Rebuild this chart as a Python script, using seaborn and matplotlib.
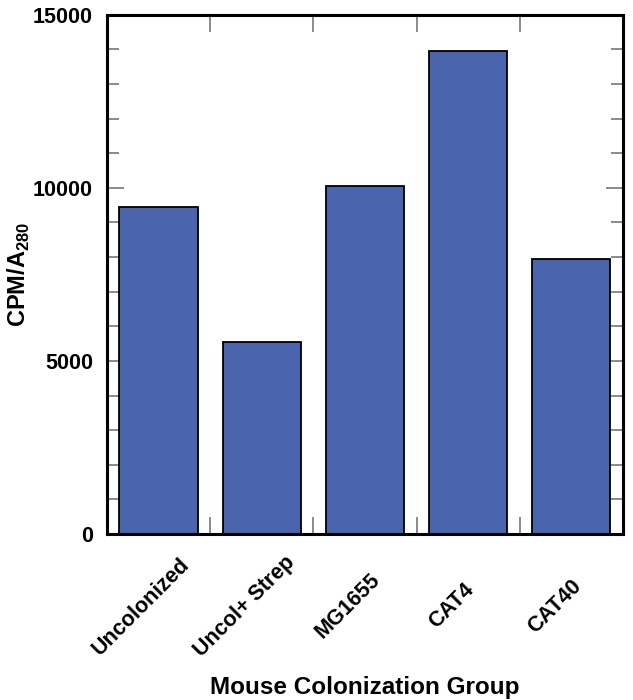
import pandas as pd
import matplotlib.pyplot as plt
import matplotlib.transforms as mtransforms
from matplotlib.ticker import MultipleLocator, FixedLocator
import seaborn as sns

# Values
groups = ['Uncolonized', 'Uncol+ Strep', 'MG1655', 'CAT4', 'CAT40']
cpm = [9450, 5540, 10050, 13940, 7950]

df = pd.DataFrame({'group': groups, 'cpm': cpm})

sns.set_style('white')
plt.rcParams['font.family'] = ['Liberation Sans', 'DejaVu Sans']
plt.rcParams['font.weight'] = 'bold'
plt.rcParams['text.color'] = 'black'
plt.rcParams['axes.labelcolor'] = 'black'

fig = plt.figure(figsize=(6.33, 7.0), dpi=100)
ax = fig.add_axes([0.169, 0.237, 0.815, 0.742])

sns.barplot(data=df, x='group', y='cpm', color='#4A65AE', saturation=1,
            width=0.76, edgecolor='black', linewidth=1.3, ax=ax)

ax.set_xlim(-0.5, 4.5)
ax.set_ylim(0, 15000)

# y ticks: major every 5000, minor every 1000, inward on both sides
ax.yaxis.set_major_locator(MultipleLocator(5000))
ax.yaxis.set_minor_locator(MultipleLocator(1000))
ax.tick_params(axis='y', which='both', direction='in', left=True, right=True,
               color='#777777', width=1.2, labelsize=15.5, labelcolor='black', pad=10)
ax.tick_params(axis='y', which='major', length=12)
ax.tick_params(axis='y', which='minor', length=8.5)

# x ticks: marks at the boundaries between groups, labels under the bars
ax.xaxis.set_minor_locator(FixedLocator([0.5, 1.5, 2.5, 3.5]))
ax.tick_params(axis='x', which='minor', direction='in', bottom=True, top=True,
               length=12, color='#777777', width=1.2)
ax.tick_params(axis='x', which='major', length=0, labelsize=15.5,
               labelcolor='black', pad=52)

offset = mtransforms.ScaledTranslation(-0.17, 0, fig.dpi_scale_trans)
for lab in ax.get_xticklabels():
    lab.set_rotation(45)
    lab.set_ha('center')
    lab.set_va('center')
    lab.set_rotation_mode('anchor')
    lab.set_transform(lab.get_transform() + offset)

for side in ['left', 'right', 'top', 'bottom']:
    ax.spines[side].set_visible(True)
    ax.spines[side].set_color('black')
    ax.spines[side].set_linewidth(2.2)

ax.set_xlabel('Mouse Colonization Group', fontsize=17.5, fontweight='bold')
ax.set_ylabel('CPM/A$_\\mathregular{280}$', fontsize=17, fontweight='bold')
ax.xaxis.set_label_coords(0.5, -0.274)
ax.yaxis.set_label_coords(-0.146, 0.5)

fig.savefig('out.png', dpi=100)
